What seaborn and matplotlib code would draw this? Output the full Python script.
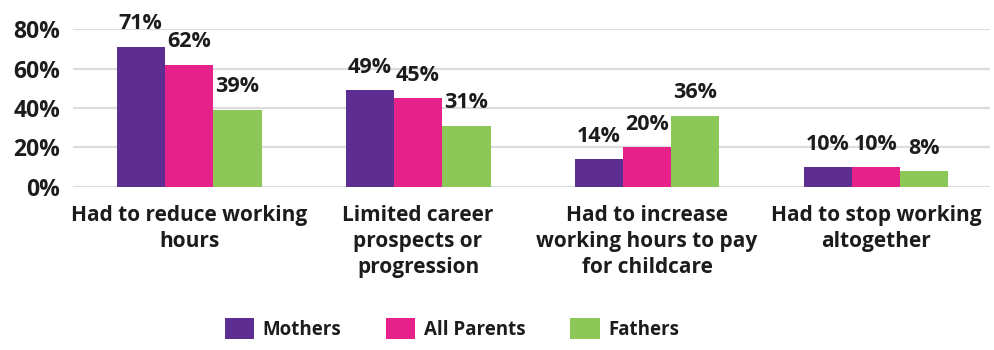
import matplotlib
matplotlib.use("Agg")
import matplotlib.pyplot as plt
import seaborn as sns
import pandas as pd

categories = [
    "Had to reduce working\nhours",
    "Limited career\nprospects or\nprogression",
    "Had to increase\nworking hours to pay\nfor childcare",
    "Had to stop working\naltogether",
]
groups = ["Mothers", "All Parents", "Fathers"]
mothers = [71, 49, 14, 10]
all_parents = [62, 45, 20, 10]
fathers = [39, 31, 36, 8]
colors = ["#5E2D91", "#E6228A", "#8CC858"]
y_ticks = [0, 20, 40, 60, 80]

rows = []
for name, vals in zip(groups, [mothers, all_parents, fathers]):
    for cat, v in zip(categories, vals):
        rows.append({"category": cat, "group": name, "value": v})
df = pd.DataFrame(rows)

sns.set_theme(style="white")
plt.rcParams["font.family"] = ["Open Sans", "DejaVu Sans"]
text_color = "#1c1c1c"

fig = plt.figure(figsize=(9.94, 3.5), dpi=100)
ax = fig.add_axes([0.0734, 0.466, 0.9226, 0.451])

sns.barplot(
    data=df, x="category", y="value", hue="group", hue_order=groups,
    order=categories, palette=colors, width=0.633, gap=0, saturation=1,
    linewidth=0, edgecolor="none", ax=ax,
)

handles, labels = ax.get_legend_handles_labels()
ax.get_legend().remove()

for container, vals in zip(ax.containers, [mothers, all_parents, fathers]):
    ax.bar_label(container, labels=[f"{v}%" for v in vals], padding=9,
                 fontsize=15.5, fontweight="bold", color=text_color)

ax.set_xlim(-0.507, 3.498)
ax.set_ylim(0, 80)
ax.set_yticks(y_ticks)
ax.set_yticklabels([f"{t}%" for t in y_ticks])
ax.yaxis.grid(True, color="#dcdcdc", linewidth=1.6)
ax.set_axisbelow(True)
for s in ax.spines.values():
    s.set_visible(False)
ax.tick_params(axis="y", length=0, pad=9, labelsize=16.5, labelcolor=text_color)
ax.tick_params(axis="x", length=0, pad=13, labelsize=15, labelcolor=text_color)
for lbl in ax.get_yticklabels() + ax.get_xticklabels():
    lbl.set_fontweight("bold")
for lbl in ax.get_xticklabels():
    lbl.set_linespacing(1.3)
ax.set_xlabel("")
ax.set_ylabel("")

fig.legend(
    handles, groups, loc="center", bbox_to_anchor=(452 / 994, 1 - 329 / 350),
    ncol=3, frameon=False, handlelength=1.55, handleheight=1.3,
    handletextpad=0.45, columnspacing=2.4,
    prop={"size": 13.5, "weight": "bold"}, labelcolor=text_color,
)

fig.savefig("out.png", dpi=100)
